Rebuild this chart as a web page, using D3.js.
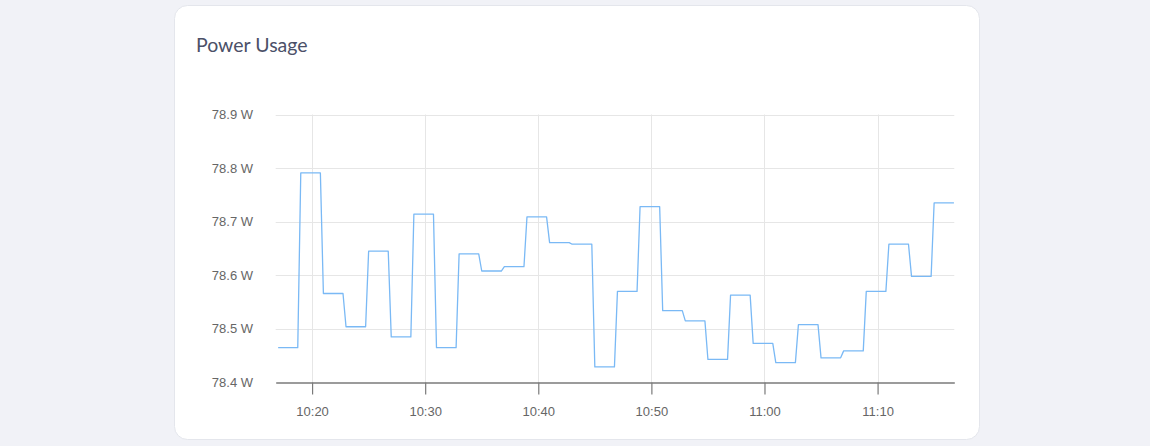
<!DOCTYPE html>
<html>
<head>
<meta charset="utf-8">
<script src="https://cdn.jsdelivr.net/npm/d3@7"></script>
<style>
  html, body { margin: 0; padding: 0; background: #f1f2f7; }
  svg { display: block; }
</style>
</head>
<body>
<svg></svg>
<script>
// tamaño de la ventana
let svgWidth = 1150;
let svgHeight = 446;

// datos: cada lectura se mantiene desde "inicio" hasta "fin"
let inicio = ["10:17:00", "10:19:00", "10:21:00", "10:23:00", "10:25:00", "10:27:00",
  "10:29:00", "10:31:00", "10:33:00", "10:35:00", "10:37:00", "10:39:00",
  "10:41:00", "10:43:00", "10:45:00", "10:47:00", "10:49:00", "10:51:00",
  "10:53:00", "10:55:00", "10:57:00", "10:59:00", "11:01:00", "11:03:00",
  "11:05:00", "11:07:00", "11:09:00", "11:11:00", "11:13:00", "11:15:00"];
let fin = ["10:18:44", "10:20:44", "10:22:44", "10:24:44", "10:26:44", "10:28:44",
  "10:30:44", "10:32:44", "10:34:44", "10:36:44", "10:38:44", "10:40:44",
  "10:42:44", "10:44:44", "10:46:44", "10:48:44", "10:50:44", "10:52:44",
  "10:54:44", "10:56:44", "10:58:44", "11:00:44", "11:02:44", "11:04:44",
  "11:06:44", "11:08:44", "11:10:44", "11:12:44", "11:14:44", "11:16:45"];
let watts = [78.465, 78.791, 78.566, 78.504, 78.645, 78.485,
  78.714, 78.465, 78.640, 78.608, 78.616, 78.709,
  78.661, 78.658, 78.429, 78.570, 78.728, 78.534,
  78.515, 78.443, 78.563, 78.473, 78.437, 78.508,
  78.446, 78.459, 78.570, 78.658, 78.598, 78.735];
let yTicks = [78.4, 78.5, 78.6, 78.7, 78.8, 78.9];
let xRango = ["10:16:47", "11:16:47"];

let parseT = d3.timeParse("%H:%M:%S");

// puntos de la línea (inicio y fin de cada lectura)
let puntos = [];
watts.forEach(function (w, i) {
  puntos.push({ t: parseT(inicio[i]), v: w });
  puntos.push({ t: parseT(fin[i]), v: w });
});

let svg = d3.select("svg")
  .attr("width", svgWidth)
  .attr("height", svgHeight);

// tarjeta blanca
svg.append("rect")
  .attr("x", 174.5).attr("y", 5.5)
  .attr("width", 805).attr("height", 434)
  .attr("rx", 13).attr("ry", 13)
  .attr("fill", "#ffffff")
  .attr("stroke", "#e4e6ec");

svg.append("text")
  .attr("x", 196).attr("y", 51.5)
  .attr("font-family", "Lato, sans-serif")
  .attr("font-size", 19.5)
  .attr("fill", "#4b5068")
  .text("Power Usage");

let x = d3.scaleTime()
  .domain(xRango.map(parseT))
  .range([275.7, 954.3]);

let y = d3.scaleLinear()
  .domain([78.4, 78.9])
  .range([382.5, 114.5]);

let xTicks = x.ticks(d3.timeMinute.every(10));

// rejilla horizontal
svg.append("g").selectAll("line")
  .data(yTicks.slice(1))
  .enter()
  .append("line")
  .attr("x1", x.range()[0]).attr("x2", x.range()[1])
  .attr("y1", function (d) { return Math.round(y(d)) + 0.5; })
  .attr("y2", function (d) { return Math.round(y(d)) + 0.5; })
  .attr("stroke", "#e6e6e6");

// rejilla vertical
svg.append("g").selectAll("line")
  .data(xTicks)
  .enter()
  .append("line")
  .attr("x1", function (d) { return Math.round(x(d)) + 0.5; })
  .attr("x2", function (d) { return Math.round(x(d)) + 0.5; })
  .attr("y1", y(78.9)).attr("y2", y(78.4))
  .attr("stroke", "#e6e6e6");

// eje x
let ejeX = svg.append("g")
  .attr("transform", "translate(0," + y(78.4) + ")")
  .call(d3.axisBottom(x)
    .tickValues(xTicks)
    .tickFormat(d3.timeFormat("%H:%M"))
    .tickSizeInner(12)
    .tickSizeOuter(0)
    .tickPadding(12));
ejeX.select(".domain").attr("stroke", "#7a7a7a").attr("stroke-width", 1.4);
ejeX.selectAll(".tick line").attr("stroke", "#7a7a7a").attr("stroke-width", 1.2);
ejeX.selectAll("text")
  .attr("font-family", "'Liberation Sans', Arial, sans-serif")
  .attr("font-size", 13)
  .attr("fill", "#666666");

// etiquetas del eje y
svg.append("g").selectAll("text")
  .data(yTicks)
  .enter()
  .append("text")
  .attr("x", 253)
  .attr("y", function (d) { return y(d); })
  .attr("dy", "0.35em")
  .attr("text-anchor", "end")
  .attr("font-family", "'Liberation Sans', Arial, sans-serif")
  .attr("font-size", 13)
  .attr("fill", "#666666")
  .text(function (d) { return d.toFixed(1) + " W"; });

// la línea
let linea = d3.line()
  .x(function (d) { return x(d.t); })
  .y(function (d) { return y(d.v); });

svg.append("path")
  .datum(puntos)
  .attr("d", linea)
  .attr("fill", "none")
  .attr("stroke", "#7ab9f5")
  .attr("stroke-width", 1.3)
  .attr("stroke-linejoin", "round");
</script>
</body>
</html>
